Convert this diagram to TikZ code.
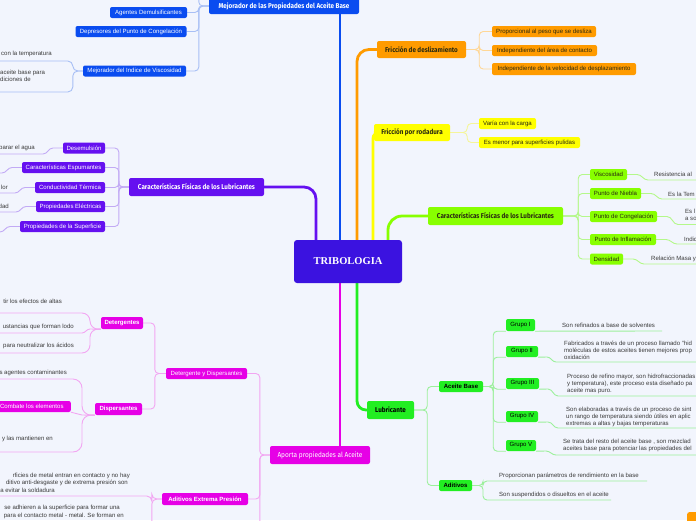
\documentclass[tikz,border=0pt]{standalone}
\usepackage{fontspec}
\setmainfont{Liberation Sans}
\newfontfamily\condf{Fira Sans}[FakeStretch=0.9]
\newfontfamily\serifb{Liberation Serif}
\usetikzlibrary{calc}
\pgfdeclarelayer{back}
\pgfdeclarelayer{lines}
\pgfsetlayers{back,lines,main}
\definecolor{bgc}{HTML}{F2F5FD}
\definecolor{cenC}{HTML}{3B12E0}
\definecolor{blN}{HTML}{0A4CF0}
\definecolor{blL}{HTML}{A8BFF5}
\definecolor{orN}{HTML}{FF9B00}
\definecolor{orL}{HTML}{FFD796}
\definecolor{yeN}{HTML}{FFFF00}
\definecolor{yeL}{HTML}{F5F59A}
\definecolor{liN}{HTML}{88FF00}
\definecolor{liL}{HTML}{B4F88A}
\definecolor{viN}{HTML}{6510F0}
\definecolor{viL}{HTML}{C2AAF5}
\definecolor{maN}{HTML}{E600E6}
\definecolor{maL}{HTML}{F2A6F2}
\definecolor{grN}{HTML}{22EE22}
\definecolor{grL}{HTML}{9CF09C}
\definecolor{leafT}{HTML}{3A3A3A}
\definecolor{darkT}{HTML}{2A2A10}
\newcommand{\fs}{\fontsize{6.05}{7}\selectfont}
\newcommand{\fsb}{\bfseries\fontsize{6.05}{7}\selectfont}
\newcommand{\fb}{\condf\bfseries\fontsize{7}{8}\selectfont}
\newcommand{\fc}{\condf\fontsize{7.2}{8}\selectfont}
\tikzset{
  nd/.style={rounded corners=2pt, inner sep=0pt, minimum height=11pt, align=center, font=\fs},
  bl/.style={nd, fill=blN, text=white},
  orn/.style={nd, fill=orN, text=darkT},
  yen/.style={nd, fill=yeN, text=darkT},
  lin/.style={nd, fill=liN, text=darkT},
  vin/.style={nd, fill=viN, text=white},
  man/.style={nd, fill=maN, text=white},
  grn/.style={nd, fill=grN, text=black},
  leaf/.style={inner sep=0pt, text=leafT, font=\fs, align=left},
  mainln/.style={line width=2.8pt},
  cl/.style={line width=0.9pt, rounded corners=4pt},
}
\begin{document}
\begin{tikzpicture}[x=1pt,y=-1pt]
\begin{pgfonlayer}{back}
\fill[bgc] (0,0) rectangle (696,520);
\end{pgfonlayer}
\useasboundingbox (0,0) rectangle (696,520);
\clip (0,0) rectangle (696,520);

% ---------- nodes ----------
\node[nd, fill=cenC, text=white, minimum width=108, minimum height=43, rounded corners=3pt, font=\serifb\bfseries\fontsize{10.5}{12}\selectfont] (c) at (348,261.5) {TRIBOLOGIA};

% blue
\node[bl, font=\fb, minimum width=150, minimum height=16] (mej) at (284,6) {Mejorador de las Propiedades del Aceite Base};
\node[bl, minimum width=77] (ad) at (148.5,12.5) {Agentes Demulsificantes};
\node[bl, minimum width=111] (dp) at (131,31.5) {Depresores del Punto de Congelación};
\node[bl, minimum width=103] (miv) at (134.5,71) {Mejorador del Indice de Viscosidad};
\node[leaf, anchor=west] (mvt1) at (1,54) {con la temperatura};
\node[leaf, anchor=north west] (mvt2) at (0,69.5) {aceite base para\\diciones de};

% orange
\node[orn, font=\fb, minimum width=89, minimum height=17] (fd) at (421.5,49.5) {Fricción de deslizamiento};
\node[orn, minimum width=104] (o1) at (544,31.5) {Proporcional al peso que se desliza};
\node[orn, minimum width=105] (o2) at (544.5,50.5) {Independiente del área de contacto};
\node[orn, minimum width=144, minimum height=12] (o3) at (564,69) {Independiente de la velocidad de desplazamiento};

% yellow
\node[yen, font=\fb, minimum width=76, minimum height=17] (fr) at (412,132.5) {Fricción por rodadura};
\node[yen, minimum width=57] (y1) at (507.5,123.5) {Varía con la carga};
\node[yen, minimum width=101] (y2) at (529.5,142.5) {Es menor para superficies pulidas};

% lime
\node[lin, font=\fb, minimum width=135, minimum height=18] (cfR) at (495.5,216) {Características Físicas de los Lubricantes};
\node[lin, minimum width=37] (g1) at (608.5,174.5) {Viscosidad};
\node[lin, minimum width=51] (g2) at (615.5,193.5) {Punto de Niebla};
\node[lin, minimum width=67] (g3) at (623.5,216.5) {Punto de Congelación};
\node[lin, minimum width=66] (g4) at (623,239.5) {Punto de Inflamación};
\node[lin, minimum width=33] (g5) at (606.5,259) {Densidad};
\node[leaf, anchor=west] (g1t) at (654,174) {Resistencia al};
\node[leaf, anchor=west] (g2t) at (668,194) {Es la Tem};
\node[leaf, anchor=north west] (g3t) at (685,208.5) {Es l\\a so};
\node[leaf, anchor=west] (g4t) at (684,239) {Indic};
\node[leaf, anchor=west] (g5t) at (651,259) {Relación Masa y};

% violet
\node[vin, font=\fb, minimum width=135, minimum height=18] (cfL) at (196.5,187) {Características Físicas de los Lubricantes};
\node[vin, minimum width=42] (v1) at (84,148) {Desemulsión};
\node[vin, minimum width=83] (v2) at (63.5,167.5) {Características Espumantes};
\node[vin, minimum width=70] (v3) at (70,187.5) {Conductividad Térmica};
\node[vin, minimum width=69] (v4) at (70.5,206.5) {Propiedades Eléctricas};
\node[vin, minimum width=85] (v5) at (62.5,226.5) {Propiedades de la Superficie};
\node[leaf, anchor=east] (v1t) at (35,148) {parar el agua};
\node[leaf, anchor=east] (v3t) at (8,187) {lor};
\node[leaf, anchor=east] (v4t) at (9,206) {dad};

% magenta
\node[man, font=\fc, minimum width=100, minimum height=18] (ap) at (320,455) {Aporta propiedades al Aceite};
\node[man, minimum width=81] (dd) at (206.5,373.5) {Detergente y Dispersantes};
\node[man, font=\fsb, minimum width=86, minimum height=12] (aep) at (205,499) {Aditivos Extrema Presión};
\node[man, font=\fsb, minimum width=42, minimum height=12] (det) at (122,323) {Detergentes};
\node[man, font=\fsb, minimum width=47, minimum height=12] (dis) at (118.5,409) {Dispersantes};
\node[man, minimum width=78, anchor=east] (cbe) at (71,406.5) {Combate los elementos};
\node[leaf, anchor=east] (dt1) at (62,301) {tir los efectos de altas};
\node[leaf, anchor=east] (dt2) at (74,327) {ustancias que forman lodo};
\node[leaf, anchor=east] (dt3) at (74,346) {para neutralizar los ácidos};
\node[leaf, anchor=east] (ds1) at (67,373) {s agentes contaminantes};
\node[leaf, anchor=east] (ds3) at (53,439) {y las mantienen en};
\node[leaf, anchor=east] (ae1) at (130,475.5) {rficies de metal entran en contacto y no hay};
\node[leaf, anchor=east] (ae2) at (128,483) {ditivo anti-desgaste y de extrema presión son};
\node[leaf, anchor=east] (ae3) at (55,490) {a evitar la soldadura};
\node[leaf, anchor=east] (ae4) at (120,508) {se adhieren a la superficie para formar una};
\node[leaf, anchor=east] (ae5) at (124,515.5) {para el contacto metal - metal. Se forman en};

% green
\node[grn, font=\fb, minimum width=47, minimum height=18] (lub) at (390.5,410) {Lubricante};
\node[grn, font=\fsb, minimum width=44] (ab) at (461,386.5) {Aceite Base};
\node[grn, font=\fsb, minimum width=33] (adt) at (455.5,485.5) {Aditivos};
\node[grn, minimum width=29, minimum height=12] (gI) at (520.5,325) {Grupo I};
\node[grn, minimum width=32] (gII) at (522,351.5) {Grupo II};
\node[grn, minimum width=33] (gIII) at (522.5,383.5) {Grupo III};
\node[grn, minimum width=32] (gIV) at (522,416.5) {Grupo IV};
\node[grn, minimum width=30] (gV) at (521,445.5) {Grupo V};
\node[leaf, anchor=west] (gIt) at (562,325) {Son refinados a base de solventes};
\node[leaf, anchor=north west] (gIIt) at (564,340.5) {Fabricados a través de un proceso llamado "hid\\moléculas de estos aceites tienen mejores prop\\oxidación};
\node[leaf, anchor=north west] (gIIIt) at (567,373.5) {Proceso de refino mayor, son hidrofraccionadas\\y temperatura), este proceso esta diseñado pa\\aceite mas puro.};
\node[leaf, anchor=north west] (gIVt) at (566,406.5) {Son elaboradas a través de un proceso de sint\\un rango de temperatura siendo útiles en aplic\\extremas a altas y bajas temperaturas};
\node[leaf, anchor=north west] (gVt) at (563,438.5) {Se trata del resto del aceite base , son mezclad\\aceites base para potenciar las propiedades del};
\node[leaf, anchor=west] (adt1) at (499,476) {Proporcionan parámetros de rendimiento en la base};
\node[leaf, anchor=west] (adt2) at (499,495) {Son suspendidos o disueltos en el aceite};

\node[nd, fill=orN, minimum width=16, minimum height=12, anchor=north west] (orb) at (687,512) {};

% ---------- coordinates for free ends ----------
\coordinate (mtop) at (186,-12);
\coordinate (mv1) at (0,61);
\coordinate (mv2) at (0,92);
\coordinate (g1e) at (696,180);
\coordinate (g2e) at (696,199);
\coordinate (g3e) at (696,224.5);
\coordinate (g4e) at (696,244);
\coordinate (g5e) at (696,264);
\coordinate (v1e) at (0,154);
\coordinate (v2e) at (0,173);
\coordinate (v3e) at (0,193);
\coordinate (v4e) at (0,212);
\coordinate (v5e) at (0,232);
\coordinate (offb) at (250,540);
\coordinate (dt1c) at (0,313);
\coordinate (dt2c) at (0,333);
\coordinate (dt3c) at (0,353);
\coordinate (ds1c) at (0,379);
\coordinate (ds3c) at (0,452);
\coordinate (ae1c) at (0,496);
\coordinate (ae2c) at (0,540);
\coordinate (gIe) at (662,331);
\coordinate (gIIe) at (696,362);
\coordinate (gIIIe) at (696,396);
\coordinate (gIVe) at (696,428);
\coordinate (gVe) at (696,455);
\coordinate (ad1c) at (647,481);
\coordinate (ad2c) at (611,500);

\begin{pgfonlayer}{lines}
% ---------- main branches ----------
\draw[mainln, viN, rounded corners=12pt] ($(c.north)+(-32,0)$) |- (cfL.east);
\draw[mainln, blN] ($(c.north)+(-8,0)$) -- ($(mej.south)+(56,0)$);
\draw[mainln, orN, rounded corners=12pt] ($(c.north)+(9,0)$) |- (fd.west);
\draw[mainln, yeN, rounded corners=6pt] ($(c.north)+(25,0)$) |- (fr.west);
\draw[mainln, liN, rounded corners=14pt] ($(c.north)+(40,0)$) |- (cfR.west);
\draw[mainln, maN] ($(c.south)+(-8,0)$) -- ($(ap.north)+(20,0)$);
\draw[mainln, grN, rounded corners=9pt] ($(c.south)+(9,0)$) |- (lub.west);

% ---------- blue children ----------
\foreach \n in {ad,dp,miv,mtop} \draw[blL, cl] (mej.west) -- ++(-10,0) |- (\n.east);
\draw[blL, cl, rounded corners=5pt] (miv.west) -- ++(-10,0) |- (mv1);
\draw[blL, cl, rounded corners=5pt] (miv.west) -- ++(-10,0) |- (mv2);

% ---------- orange children ----------
\foreach \n in {o1,o2,o3} \draw[orL, cl] (fd.east) -- ++(13,0) |- (\n.west);

% ---------- yellow children ----------
\foreach \n in {y1,y2} \draw[yeL, cl] (fr.east) -- ++(17,0) |- (\n.west);

% ---------- lime children ----------
\foreach \n in {g1,g2,g3,g4,g5} \draw[liL, cl] (cfR.east) -- ++(15,0) |- (\n.west);
\draw[liL, line width=0.9pt] (g1.east) -- (637,174.5) to[out=0,in=180] (648,180) -- (g1e);
\draw[liL, line width=0.9pt] (g2.east) -- (651,193.5) to[out=0,in=180] (662,199) -- (g2e);
\draw[liL, line width=0.9pt] (g3.east) -- (667,216.5) to[out=0,in=180] (678,224.5) -- (g3e);
\draw[liL, line width=0.9pt] (g4.east) -- (666,239.5) to[out=0,in=180] (677,244) -- (g4e);
\draw[liL, line width=0.9pt] (g5.east) -- (633,259) to[out=0,in=180] (644,264) -- (g5e);

% ---------- violet children ----------
\foreach \n in {v1,v2,v3,v4,v5} \draw[viL, cl] (cfL.west) -- ++(-10,0) |- (\n.east);
\draw[viL, line width=0.9pt] (v1.west) -- (53,148) to[out=180,in=0] (43,154) -- (v1e);
\draw[viL, line width=0.9pt] (v2.west) -- (12,167.5) to[out=180,in=0] (2,173) -- (v2e);
\draw[viL, line width=0.9pt] (v3.west) -- (25,187.5) to[out=180,in=0] (15,193) -- (v3e);
\draw[viL, line width=0.9pt] (v4.west) -- (26,206.5) to[out=180,in=0] (16,212) -- (v4e);
\draw[viL, line width=0.9pt] (v5.west) -- (10,226.5) to[out=180,in=0] (v5e);

% ---------- magenta children ----------
\foreach \n in {dd,aep,offb} \draw[maL, cl] (ap.west) -- ++(-10,0) |- (\n.east);
\foreach \n in {det,dis} \draw[maL, cl] (dd.west) -- ++(-11,0) |- (\n.east);
\draw[maL, line width=0.9pt, rounded corners=8pt] (det.south west) -- (90,329) |- (dt1c);
\draw[maL, line width=0.9pt, rounded corners=8pt] (det.south west) -- (90,329) |- (dt3c);
\draw[maL, line width=0.9pt] (det.south west) -- (90,329) to[out=180,in=0] (82,333) -- (dt2c);
\draw[maL, line width=0.9pt, rounded corners=9pt] (dis.south west) -- (82,415) |- (ds1c);
\draw[maL, line width=0.9pt, rounded corners=9pt] (dis.south west) -- (82,415) |- (ds3c);
\draw[maL, line width=0.9pt] (dis.south west) -- (82,415) -- (cbe.south east);
\draw[maL, cl, rounded corners=5pt] (aep.west) -- ++(-10,0) |- (ae1c);
\draw[maL, cl, rounded corners=5pt] (aep.west) -- ++(-10,0) |- (ae2c);

% ---------- green children ----------
\foreach \n in {ab,adt} \draw[grL, cl] (lub.east) -- ++(13,0) |- (\n.west);
\foreach \n in {gI,gII,gIII,gIV,gV} \draw[grL, cl] (ab.east) -- ++(10,0) |- (\n.south west);
\draw[grL, line width=0.9pt] (gI.south east) -- (gIe);
\draw[grL, line width=0.9pt] (gII.south east) -- (547,357) to[out=0,in=180] (556,362) -- (gIIe);
\draw[grL, line width=0.9pt] (gIII.south east) -- (548,389) to[out=0,in=180] (558,396) -- (gIIIe);
\draw[grL, line width=0.9pt] (gIV.south east) -- (548,422) to[out=0,in=180] (558,428) -- (gIVe);
\draw[grL, line width=0.9pt] (gV.south east) -- (546,451) to[out=0,in=180] (556,455) -- (gVe);
\draw[grL, cl] (adt.east) -- (483,485.5) |- (ad1c);
\draw[grL, cl] (adt.east) -- (483,485.5) |- (ad2c);
\end{pgfonlayer}

\end{tikzpicture}
\end{document}
